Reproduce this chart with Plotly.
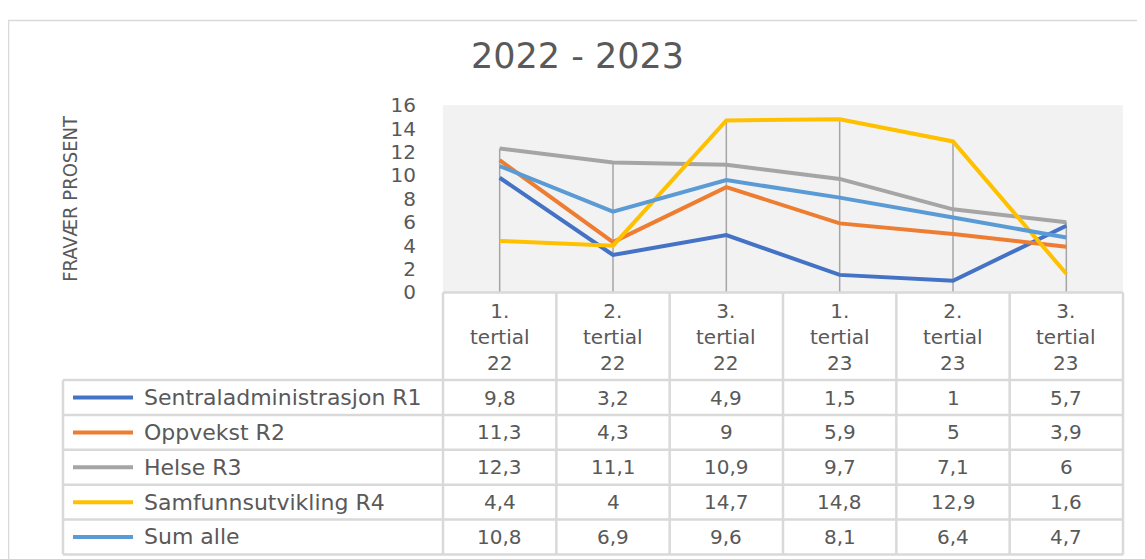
import plotly.graph_objects as go

# data
categories = ["1. tertial 22", "2. tertial 22", "3. tertial 22",
              "1. tertial 23", "2. tertial 23", "3. tertial 23"]
series_names = ["Sentraladministrasjon R1", "Oppvekst R2", "Helse R3",
                "Samfunnsutvikling R4", "Sum alle"]
sentral = [9.8, 3.2, 4.9, 1.5, 1, 5.7]
oppvekst = [11.3, 4.3, 9, 5.9, 5, 3.9]
helse = [12.3, 11.1, 10.9, 9.7, 7.1, 6]
samfunn = [4.4, 4, 14.7, 14.8, 12.9, 1.6]
sum_alle = [10.8, 6.9, 9.6, 8.1, 6.4, 4.7]

values = [sentral, oppvekst, helse, samfunn, sum_alle]
colors = ["#4472C4", "#ED7D31", "#A5A5A5", "#FFC000", "#5B9BD5"]

W, H = 1129, 562
# where the page ends up drawing the figure (measured from earlier renders)
OFF_X = 8
TOP = 18.5
SQ = 0.961
TXT = "#595959"
BORDER = "#d9d9d9"
FONT = "DejaVu Sans"

# layout, in window pixels
plot_l, plot_r = 443, 1123
plot_t, plot_b = 104, 292
row_top = 380
row_h = 35
leg_l = 63


def px(x):
    return (x - OFF_X) / W


def py(y):
    return 1 - ((y - TOP) / SQ) / H


fig = go.Figure()

# drop lines from highest value down to the axis
dx, dy = [], []
for i, c in enumerate(categories):
    dx += [c, c, None]
    dy += [max(v[i] for v in values), 0, None]
fig.add_trace(go.Scatter(x=dx, y=dy, mode="lines", hoverinfo="skip",
                         line=dict(color="#a5a5a5", width=1.5), showlegend=False))

for name, vals, col in zip(series_names, values, colors):
    fig.add_trace(go.Scatter(x=categories, y=vals, mode="lines", name=name,
                             line=dict(color=col, width=4), showlegend=False))

shapes = []
annotations = []

# outer chart border
shapes.append(dict(type="rect", xref="paper", yref="paper",
                   x0=px(8.5), x1=1.2, y0=-0.2, y1=0.999,
                   line=dict(color=BORDER, width=1.5), layer="below"))

# data table
col_w = (plot_r - plot_l) / len(categories)
n_rows = len(series_names)
table_b = row_top + n_rows * row_h
line_style = dict(color=BORDER, width=2.5)

shapes.append(dict(type="line", xref="paper", yref="paper", x0=px(plot_l), x1=px(plot_r),
                   y0=py(plot_b), y1=py(plot_b), line=line_style))
for r in range(n_rows + 1):
    y = row_top + r * row_h
    shapes.append(dict(type="line", xref="paper", yref="paper", x0=px(leg_l), x1=px(plot_r),
                       y0=py(y), y1=py(y), line=line_style))
shapes.append(dict(type="line", xref="paper", yref="paper", x0=px(leg_l), x1=px(leg_l),
                   y0=py(row_top), y1=py(table_b), line=line_style))
for k in range(len(categories) + 1):
    x = plot_l + k * col_w
    shapes.append(dict(type="line", xref="paper", yref="paper", x0=px(x), x1=px(x),
                       y0=py(plot_b), y1=py(table_b), line=line_style))

# header labels
for c in categories:
    annotations.append(dict(x=c, xref="x", y=py((plot_b + row_top) / 2 + 1), yref="paper",
                            text="<br>".join(c.split(" ")), showarrow=False,
                            font=dict(family=FONT, size=20, color=TXT),
                            xanchor="center", yanchor="middle"))

# rows: legend key, name, values
for r, (name, vals, col) in enumerate(zip(series_names, values, colors)):
    yc = row_top + r * row_h + row_h / 2
    shapes.append(dict(type="line", xref="paper", yref="paper", x0=px(73), x1=px(133),
                       y0=py(yc), y1=py(yc), line=dict(color=col, width=4)))
    annotations.append(dict(x=px(142), xref="paper", y=py(yc), yref="paper",
                            text=name, showarrow=False, xanchor="left", yanchor="middle",
                            font=dict(family=FONT, size=22, color=TXT)))
    for c, v in zip(categories, vals):
        annotations.append(dict(x=c, xref="x", y=py(yc), yref="paper",
                                text=f"{v:g}".replace(".", ","), showarrow=False,
                                xanchor="center", yanchor="middle",
                                font=dict(family=FONT, size=20, color=TXT)))

# title and y axis title
annotations.append(dict(x=px(577), y=py(55), xref="paper", yref="paper", text="2022 - 2023",
                        showarrow=False, xanchor="center", yanchor="middle",
                        font=dict(family=FONT, size=35, color=TXT)))
annotations.append(dict(x=px(70), y=py(198), xref="paper", yref="paper", text="FRAVÆR PROSENT",
                        showarrow=False, textangle=-90, xanchor="center", yanchor="middle",
                        font=dict(family="Liberation Sans Narrow, DejaVu Sans Condensed",
                                  size=20, color=TXT)))

fig.update_layout(
    width=W, height=H,
    margin=dict(l=0, r=0, t=0, b=0),
    paper_bgcolor="white",
    plot_bgcolor="#f2f2f2",
    shapes=shapes,
    annotations=annotations,
    xaxis=dict(type="category", categoryorder="array", categoryarray=categories,
               range=[-0.5, len(categories) - 0.5], domain=[px(plot_l), px(plot_r)],
               showticklabels=False, showgrid=False, zeroline=False, showline=False),
    yaxis=dict(range=[0, 16], dtick=2, domain=[py(plot_b), py(plot_t)],
               showgrid=False, zeroline=False, showline=False,
               ticklabelstandoff=26,
               tickfont=dict(family=FONT, size=20, color=TXT)),
)

fig.write_html("out.html")
